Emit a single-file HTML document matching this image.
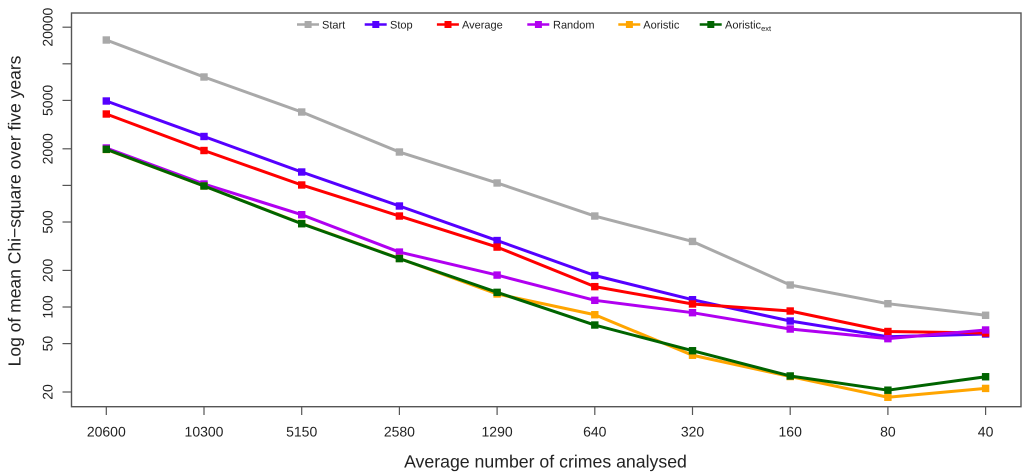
<!DOCTYPE html>
<html>
<head>
<meta charset="utf-8">
<style>
html,body{margin:0;padding:0;background:#fff;width:1024px;height:476px;overflow:hidden}
svg{display:block;filter:blur(0.35px)}
text{font-family:"Liberation Sans",sans-serif;fill:#222;text-rendering:geometricPrecision}
</style>
</head>
<body>
<svg id="chart" width="1024" height="476" viewBox="0 0 1024 476" xmlns="http://www.w3.org/2000/svg"></svg>
<script>
const categories = ["20600","10300","5150","2580","1290","640","320","160","80","40"];
const yTickValues = [20000,10000,5000,2000,1000,500,200,100,50,20];
const yTickLabels = ["20000","","5000","2000","","500","200","100","50","20"];
const seriesNames = ["Start","Stop","Average","Random","Aoristic","Aoristic_ext"];
const startValues = [15694,7789,4014,1882,1047,560,346,151.7,106.5,85.5];
const stopValues = [4944,2525,1289,677,352,181.6,114.8,76.7,57,60];
const averageValues = [3865,1936,1008,560,311,147,105.9,92.7,62.9,61.1];
const randomValues = [2031,1027,574,283,183,113.5,89.8,65.9,54.9,64.7];
const aoristicValues = [1974,989,486,251,128,86.4,40.1,26.8,18.1,21.4];
const aoristicExtValues = [1982,989,484,250,132,71.1,43.7,27.1,20.7,26.7];
const seriesColors = ["#a9a9a9","#5500ff","#ff0000","#b000f0","#ffa500","#006400"];
const seriesData = [startValues,stopValues,averageValues,randomValues,aoristicValues,aoristicExtValues];

const svg = document.getElementById('chart');
const NS = 'http://www.w3.org/2000/svg';
const AXIS = '#555';
function make(tag, attrs, parent){
  const el = document.createElementNS(NS, tag);
  for (const k in attrs) el.setAttribute(k, attrs[k]);
  (parent || svg).appendChild(el);
  return el;
}
function xScale(i){ return 106.3 + i * 97.7; }
function yScale(v){ return 392 - (Math.log10(v) - Math.log10(20)) * 121.6; }
function slug(s){ return s.toLowerCase().replace(/_/g,'-'); }

/* x ticks and labels */
categories.forEach(function(c, i){
  const t = make('line', {x1:xScale(i), x2:xScale(i), y1:406.7, y2:415, stroke:AXIS, 'stroke-width':1.2});
  
  
  const l = make('text', {x:xScale(i), y:436.3, 'text-anchor':'middle', 'font-size':14});
  
  
  l.textContent = c;
});

/* y ticks and labels */
yTickValues.forEach(function(v, i){
  const y = yScale(v);
  const t = make('line', {x1:62.5, x2:71.5, y1:y, y2:y, stroke:AXIS, 'stroke-width':1.2});
  
  
  if (yTickLabels[i]) {
    const l = make('text', {x:0, y:0, transform:'translate(52.5,' + y + ') rotate(-90)', 'text-anchor':'middle', 'font-size':14});
    
    
    l.textContent = yTickLabels[i];
  }
});

/* series */
seriesData.forEach(function(vals, s){
  const g = make('g', {});
  
  
  const pts = vals.map(function(v, i){ return xScale(i).toFixed(2) + ',' + yScale(v).toFixed(2); }).join(' ');
  const line = make('polyline', {points:pts, fill:'none', stroke:seriesColors[s], 'stroke-width':3, 'stroke-linejoin':'round'}, g);
  
  
  vals.forEach(function(v, i){
    const m = make('rect', {x:xScale(i)-3.7, y:yScale(v)-3.7, width:7.4, height:7.4, fill:seriesColors[s]}, g);
    
    
  });
});

/* plot box */
const box = make('rect', {x:71.5, y:13, width:949.5, height:393.7, fill:'none', stroke:AXIS, 'stroke-width':1.4});



/* legend */
const legendLineStarts = [297,364.7,436.9,527.3,618.3,699.7];
const legendTextStarts = [322,390,462,553,643.3,725];
const legend = make('g', {});


seriesNames.forEach(function(name, s){
  const g = make('g', {}, legend);
  
  
  make('line', {x1:legendLineStarts[s], x2:legendLineStarts[s]+22, y1:24.5, y2:24.5, stroke:seriesColors[s], 'stroke-width':2.4}, g);
  make('rect', {x:legendLineStarts[s]+7.6, y:21, width:7, height:7, fill:seriesColors[s]}, g);
  const t = make('text', {x:legendTextStarts[s], y:28.3, 'font-size':11}, g);
  if (name === 'Aoristic_ext') {
    t.textContent = 'Aoristic';
    const sub = make('tspan', {dy:2.8, 'font-size':7.5}, t);
    sub.textContent = 'ext';
  } else {
    t.textContent = name;
  }
});

/* axis titles */
const xt = make('text', {x:545.5, y:467.5, 'text-anchor':'middle', 'font-size':17.7});


xt.textContent = 'Average number of crimes analysed';
const yt = make('text', {x:0, y:0, transform:'translate(20.7,211) rotate(-90)', 'text-anchor':'middle', 'font-size':17.5});


yt.textContent = 'Log of mean Chi\u2212square over five years';
</script>
</body>
</html>
